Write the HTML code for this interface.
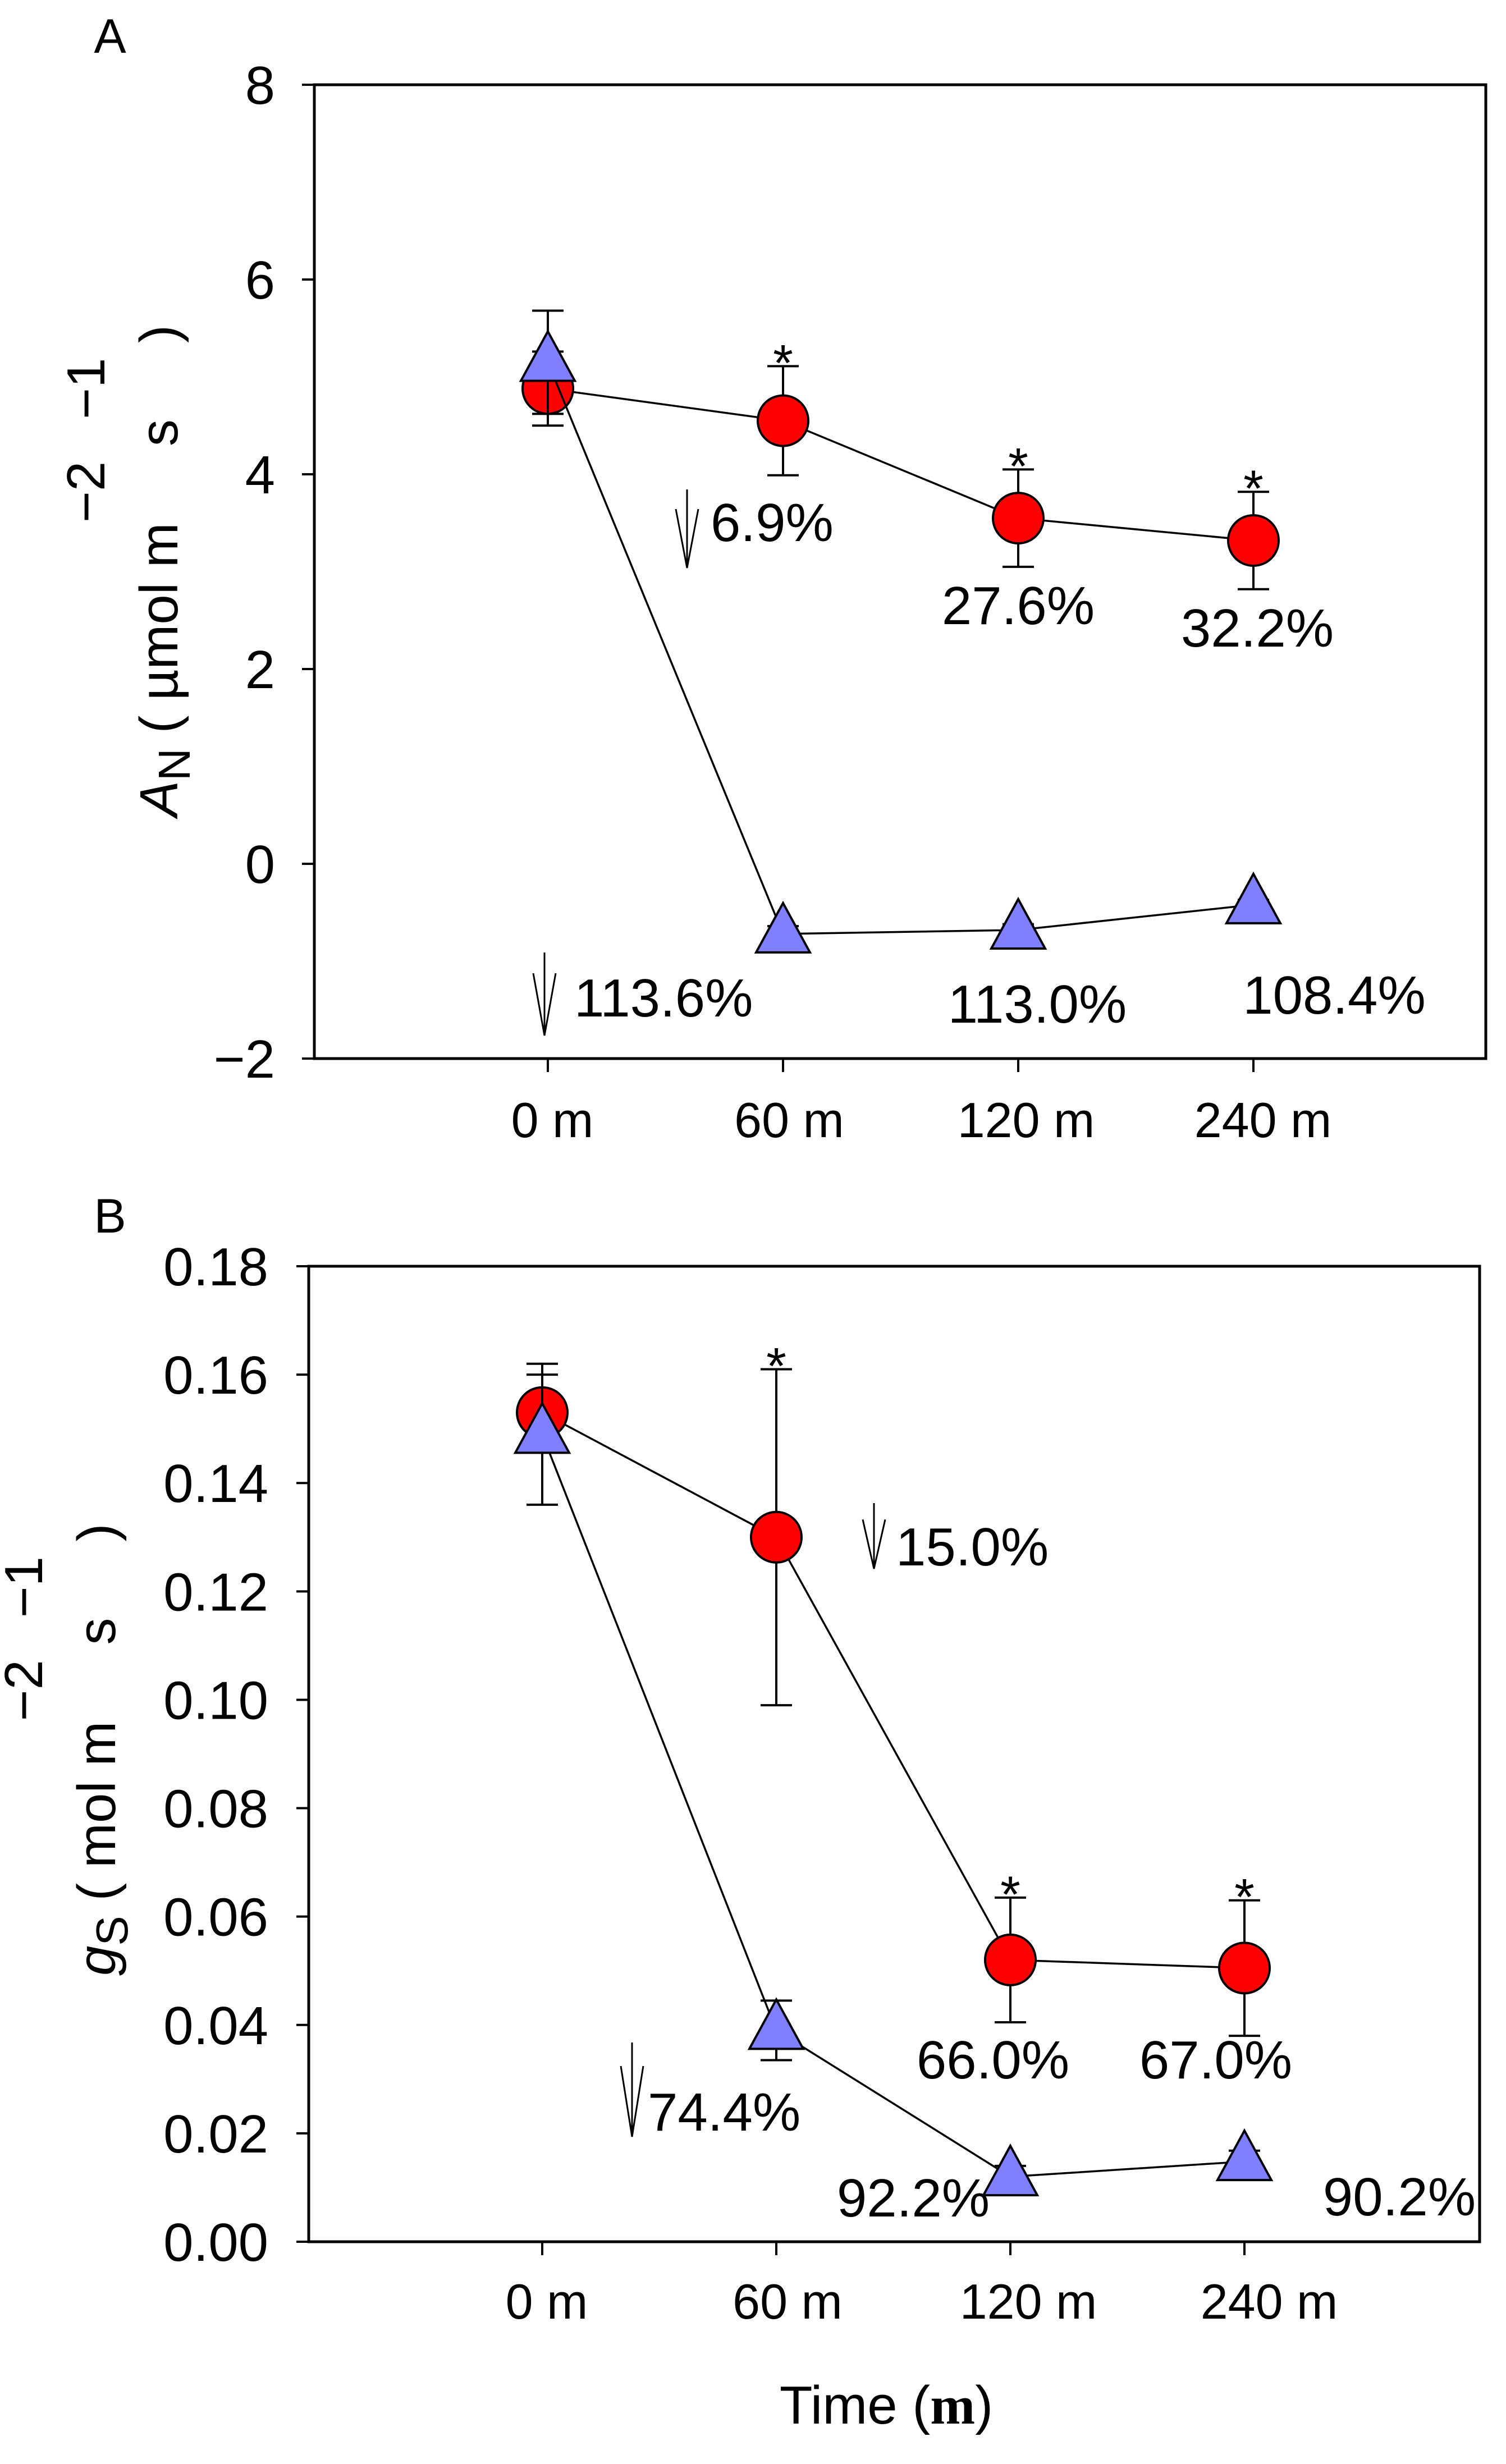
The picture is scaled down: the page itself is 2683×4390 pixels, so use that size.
<!DOCTYPE html>
<html><head><meta charset="utf-8"><style>
html,body{margin:0;padding:0;background:#fff;}
svg{display:block;font-family:"Liberation Sans",sans-serif;}
</style></head><body>
<svg id="chart" width="2683" height="4390" viewBox="0 0 2683 4390" xmlns="http://www.w3.org/2000/svg">
<rect width="2683" height="4390" fill="#fff"/>
<g id="pa"></g>
<g id="pb"></g>
</svg>
<script>
const categories = ["0 m","60 m","120 m","240 m"];
const aRed = [4.88, 4.55, 3.55, 3.32];
const aRedErr = [0.38, 0.56, 0.5, 0.5];
const aBlue = [5.15, -0.72, -0.68, -0.42];
const aBlueErr = [0.53, 0.08, 0.06, 0.05];
const aTicks = [-2, 0, 2, 4, 6, 8];
const aTickLabels = ["\u22122","0","2","4","6","8"];
const aStars = [false, true, true, true];
const bRed = [0.153, 0.130, 0.052, 0.0505];
const bRedErr = [0.007, 0.031, 0.0115, 0.0125];
const bBlue = [0.149, 0.039, 0.012, 0.0148];
const bBlueErr = [0.013, 0.0055, 0.002, 0.002];
const bTicks = [0,0.02,0.04,0.06,0.08,0.10,0.12,0.14,0.16,0.18];
const bTickLabels = ["0.00","0.02","0.04","0.06","0.08","0.10","0.12","0.14","0.16","0.18"];
const bStars = [false, true, true, true];

const NS = "http://www.w3.org/2000/svg";
function mk(parent, tag, attrs, text){
  const e = document.createElementNS(NS, tag);
  for (const k in attrs) e.setAttribute(k, attrs[k]);
  if (text !== undefined) e.textContent = text;
  parent.appendChild(e);
  return e;
}

function drawPanel(g, cfg){
  const {L,R,T,B,ymin,ymax,x0,dx} = cfg;
  const sy = v => B - (v - ymin) / (ymax - ymin) * (B - T);
  const sx = i => x0 + i * dx;
  const frame = mk(g,'rect',{x:L,y:T,width:R-L,height:B-T,fill:'none',stroke:'#000','stroke-width':5});
  
  
  cfg.ticks.forEach((t,i)=>{
    const y = sy(t);
    const tl = mk(g,'line',{x1:L-22,x2:L,y1:y,y2:y,stroke:'#000','stroke-width':4});
    
    
    const tx = mk(g,'text',{x:cfg.tickX,y:y+34,'font-size':96,'text-anchor':'end'},cfg.tickLabels[i]);
    
    
  });
  categories.forEach((c,i)=>{
    const x = sx(i);
    const tl = mk(g,'line',{x1:x,x2:x,y1:B,y2:B+24,stroke:'#000','stroke-width':4});
    
    
    const tx = mk(g,'text',{x:x+8+i*cfg.labStep,y:cfg.xlabY,'font-size':88,'text-anchor':'middle'},c);
    
    
  });
  function series(vals, errs, kind){
    const pts = vals.map((v,i)=>sx(i)+','+sy(v)).join(' ');
    const pl = mk(g,'polyline',{points:pts,fill:'none',stroke:'#000','stroke-width':3.5});
    
    
    vals.forEach((v,i)=>{
      const x = sx(i), y1 = sy(v+errs[i]), y2 = sy(v-errs[i]);
      const eb = mk(g,'path',{d:`M${x},${y1}V${y2}M${x-28},${y1}H${x+28}M${x-28},${y2}H${x+28}`,stroke:'#000','stroke-width':4,fill:'none'});
      
      
    });
    vals.forEach((v,i)=>{
      const x = sx(i), y = sy(v);
      let m;
      if (kind==='red') m = mk(g,'circle',{cx:x,cy:y,r:45,fill:'#ff0000',stroke:'#000','stroke-width':4});
      else m = mk(g,'polygon',{points:`${x},${y-55} ${x-48},${y+33} ${x+48},${y+33}`,fill:'#8080ff',stroke:'#000','stroke-width':4});
      
      
    });
  }
  series(cfg.red, cfg.redErr, 'red');
  series(cfg.blue, cfg.blueErr, 'blue');
  cfg.stars.forEach((s,i)=>{
    if(!s) return;
    const top = Math.max(cfg.red[i]+cfg.redErr[i], cfg.blue[i]+cfg.blueErr[i]);
    const st = mk(g,'text',{x:sx(i),y:sy(top)+26,'font-size':92,'text-anchor':'middle'},'*');
    
    
  });
}

function annot(g, x, y, s, anchor){
  const t = mk(g,'text',{x:x,y:y,'font-size':96,'text-anchor':anchor||'middle'},s);
  
  
}
function arrow(g, x, y1, y2){
  const a = mk(g,'path',{d:`M${x},${y1}V${y2}M${x-20},${y1+(y2-y1)*0.25}L${x},${y2}L${x+20},${y1+(y2-y1)*0.25}`,stroke:'#000','stroke-width':3,fill:'none'});
  
  
}

const pa = document.getElementById('pa');
drawPanel(pa,{L:560,R:2647,T:151,B:1886,ymin:-2,ymax:8,x0:976,dx:419,labStep:3,ticks:aTicks,tickLabels:aTickLabels,tickX:490,xlabY:2026,
  red:aRed,redErr:aRedErr,blue:aBlue,blueErr:aBlueErr,stars:aStars});
annot(pa,1266,964,'6.9%','start'); arrow(pa,1224,872,1012);
annot(pa,1814,1112,'27.6%'); annot(pa,2240,1152,'32.2%');
annot(pa,1023,1811,'113.6%','start'); arrow(pa,970,1697,1845);
annot(pa,1848,1822,'113.0%'); annot(pa,2377,1806,'108.4%');
const la = mk(pa,'text',{x:196,y:94,'font-size':86,'text-anchor':'middle'},'A');
 
const ya = mk(pa,'text',{transform:'translate(316,1455) rotate(-90)','font-size':96},'');
 
ya.innerHTML='<tspan font-style="italic">A</tspan><tspan dy="22" font-size="80">N</tspan><tspan dy="-22"> ( µmol m</tspan><tspan dy="-130">\u22122</tspan><tspan dy="130"> s</tspan><tspan dy="-130">\u22121</tspan><tspan dy="130"> )</tspan>';

const pb = document.getElementById('pb');
drawPanel(pb,{L:550,R:2636,T:2256,B:3994,ymin:0,ymax:0.18,x0:966,dx:417,labStep:12,ticks:bTicks,tickLabels:bTickLabels,tickX:478,xlabY:4131,
  red:bRed,redErr:bRedErr,blue:bBlue,blueErr:bBlueErr,stars:bStars});
annot(pb,1596,2789,'15.0%','start'); arrow(pb,1557,2678,2795);
annot(pb,1769,3703,'66.0%'); annot(pb,2166,3703,'67.0%');
annot(pb,1154,3796,'74.4%','start'); arrow(pb,1126,3639,3807);
annot(pb,1627,3949,'92.2%'); annot(pb,2493,3947,'90.2%');
const lb = mk(pb,'text',{x:196,y:2196,'font-size':86,'text-anchor':'middle'},'B');
 
const yb = mk(pb,'text',{transform:'translate(205,3520) rotate(-90)','font-size':96},'');
 
yb.innerHTML='<tspan font-style="italic">g</tspan><tspan dy="22" font-size="80">S</tspan><tspan dy="-22"> ( mol m</tspan><tspan dy="-130">\u22122</tspan><tspan dy="130"> s</tspan><tspan dy="-130">\u22121</tspan><tspan dy="130"> )</tspan>';
const xt = mk(pb,'text',{x:1579,y:4318,'font-size':96,'text-anchor':'middle'},'');
 
xt.innerHTML='Time (<tspan font-family="Liberation Serif" font-weight="bold">m</tspan>)';
</script>
</body></html>
